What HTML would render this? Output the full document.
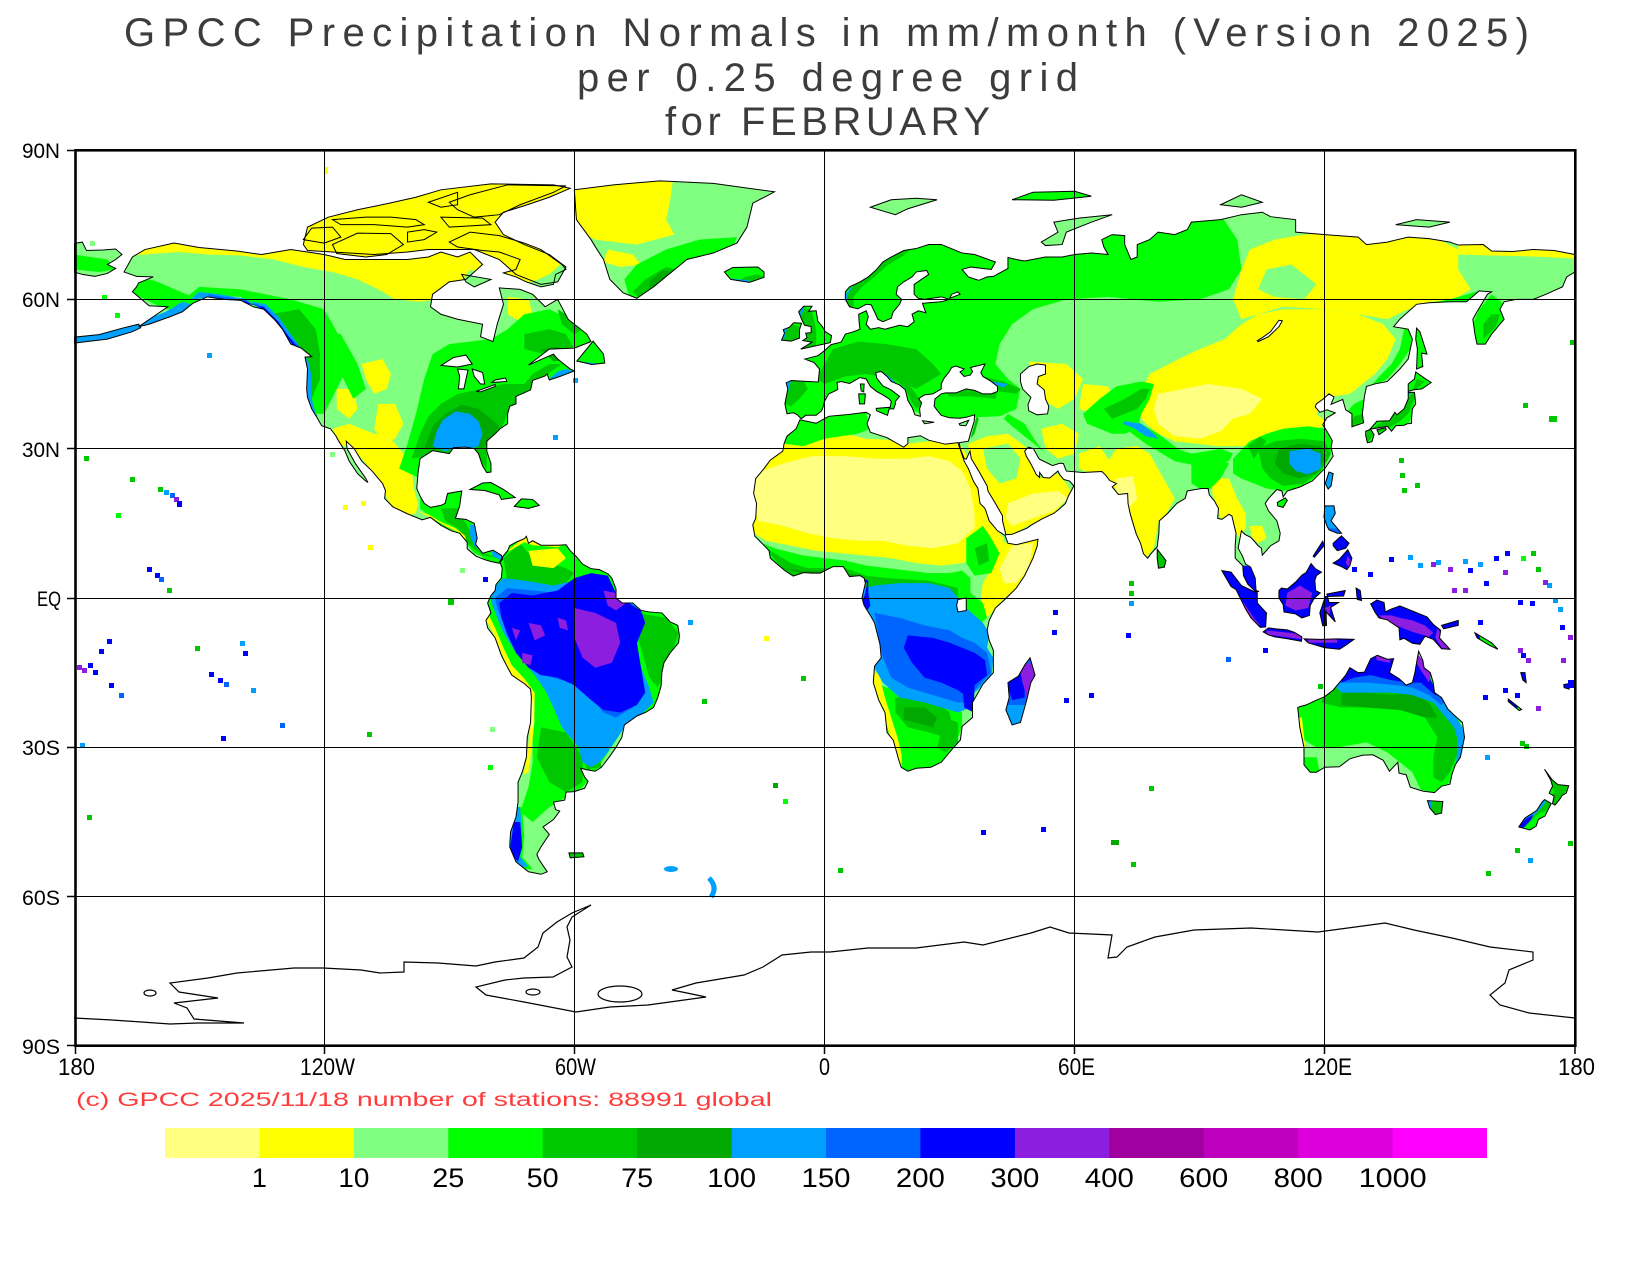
<!DOCTYPE html>
<html><head><meta charset="utf-8"><style>
html,body{margin:0;padding:0;background:#fff;}
svg{display:block;}
polygon,path,ellipse,line{vector-effect:non-scaling-stroke;}
text{font-family:"Liberation Sans",sans-serif;}
</style></head><body>
<svg xmlns="http://www.w3.org/2000/svg" xmlns:xlink="http://www.w3.org/1999/xlink" width="1650" height="1270" viewBox="0 0 1650 1270">
<rect x="0" y="0" width="1650" height="1270" fill="#fff"/>
<defs>
<polygon id="na" points="-168,65.5 -166,68.5 -163,70 -156,71.3 -150,70.4 -141,69.7 -135,69 -128,70 -120,69 -115,68 -108,68 -100,68 -95,68.5 -92,69.5 -88,68.5 -85,69.5 -82,67 -86,64 -90,63.5 -94,61 -94.5,58.5 -92,57 -88,56 -82,55 -82.5,52.5 -79.5,51.5 -78.5,55 -77,59 -78,62.3 -73,62 -70,61 -67,58.5 -64,60 -61.5,56 -57,53 -56,51.5 -60,50.2 -66,50 -71,46.8 -65,49 -64,48 -61,46 -60,45.6 -63.5,44.5 -66,43.8 -66.5,45 -67,44.6 -70,43.7 -70.5,41.8 -74,40.5 -74,39 -75.5,38.5 -76,37 -76,35 -77.8,34 -79,33 -81,31.5 -81,29.5 -80,27 -80,25.3 -81,25.2 -82,26.5 -83,29 -84,30 -86,30.3 -89,30.2 -90,29 -94,29.6 -97,28 -97.5,25 -97.8,22 -97,20.5 -96,19 -94.5,18.2 -92,18.6 -91,19 -90.4,21 -87,21.5 -87.5,18.5 -88.5,16 -86,15.8 -84,15 -83.3,12 -83.7,10.8 -82,9 -79.5,9.6 -77.5,8.6 -77.2,7.8 -78,7 -79.9,7.3 -81.5,7.7 -83.6,8.4 -85.7,9.9 -85.7,11.2 -87.5,13 -89.5,13.5 -92,14.6 -94.5,16.2 -96.5,15.7 -100,16.9 -103.5,18.3 -105.5,20 -105.3,21.6 -106,23 -108.5,25.5 -111,27.5 -112.8,30 -114.7,31.5 -114.5,30 -112.5,27 -110,24 -109.5,23.2 -110.2,23.6 -112,25 -114,27.5 -115,29.5 -116.5,31.5 -117.2,32.6 -118.5,34 -120.6,34.6 -121.9,36.5 -123,38 -124,40.3 -124.2,42 -124,46 -124.6,48.4 -123,48.5 -125.5,50.2 -128,51 -130,54 -132,56 -134.5,58 -137,58.5 -140,59.8 -144,60 -148,60.5 -151.5,59.2 -154,57.5 -157,56.5 -162,55 -164.5,54.5 -161,56.5 -157.5,58.5 -162,58.7 -164.5,60.5 -166,61.5 -165,62.5 -164.5,63.3 -161,64.5 -165,64.6"/>
<polygon id="arch" points="-125,71 -124,74.5 -119,76.5 -112,78 -105,79.2 -98,80.5 -92,82 -80,83.2 -65,83 -61,82.3 -66,80.5 -72,78.8 -77,77.5 -79,75.5 -77,73 -72,71 -66,69 -62,66.5 -64,63.5 -68,63 -74,65 -78,68 -84,70 -90,70 -95,70 -100,69.5 -108,69 -118,69.5 -124,69.8"/>
<polygon id="aleut" points="-180,51.2 -172,52 -166,53.5 -164,54.3 -164.5,55 -168,54.3 -174,52.9 -180,52.4"/>
<polygon id="chk" points="-180,71.2 -178,71.5 -177,69.8 -173,69.9 -170,70.1 -168.5,69 -170,68 -172,67 -170,66.2 -172,65.2 -175,64.6 -178,65 -180,65.5"/>
<polygon id="gr" points="-60,82 -59.5,76 -56,72 -55,70.6 -53,68 -51.5,64 -48.3,61.3 -45,60.2 -41,62.5 -33,68 -26.7,69.3 -21,71.3 -18.6,74.5 -17.2,79.3 -12,81.6 -26.7,83.3 -39.5,83.8 -50.6,83"/>
<polygon id="baf" points="-90,71.5 -85,73.5 -78,72.8 -72,71.3 -68,70 -63,67 -62,66 -64.5,65 -65,63 -68,62.5 -71.5,63.5 -74,64.5 -77,65.3 -74,66 -73,68 -78,69.5 -82,69.8 -88,70.5"/>
<polygon id="vic" points="-118,71 -112,73.3 -104,73.2 -101,71 -105,69 -110,68.5 -117,69.2"/>
<polygon id="banks" points="-125,72 -123,74.3 -118,74.5 -116,72.5 -120,71.3"/>
<polygon id="mel" points="-118,76 -110,76.5 -104,76.5 -98,76 -96,75 -100,74.5 -108,75 -116,75"/>
<polygon id="dev" points="-92,76.5 -82,76.3 -80,75 -90,74.5"/>
<polygon id="elles" points="-90,79.5 -85,81 -76,83 -62,82.8 -65,81.5 -73,79 -78,77 -84,76.5 -88,78"/>
<polygon id="axel" points="-95,79.5 -88,81.5 -88,79 -92,78.5"/>
<polygon id="sth" points="-87,65 -80,64 -84,62.5 -86,63.5"/>
<polygon id="pow" points="-100,73.5 -96,74 -93,73.5 -96,72 -100,71.5"/>
<polygon id="nfld" points="-59.4,47.6 -55.5,51.6 -53,49 -52.7,47.2 -55.8,46.9"/>
<polygon id="cuba" points="-85,21.8 -82,23.1 -80,23.2 -77,21.8 -74.2,20.2 -77.5,19.8 -78,20.7 -81.5,21.6"/>
<polygon id="hisp" points="-74.4,18.4 -72.7,19.9 -70,19.8 -68.4,18.6 -71,18"/>
<polygon id="sa" points="-77,8.5 -76,9.5 -75.5,10.5 -74,11.2 -72,11.9 -71.5,12.4 -71,11 -70,11.5 -68,10.6 -66,10.6 -64,10.6 -62,10.7 -61,9.5 -59.5,8.3 -58,6.8 -56,5.9 -54,5.7 -52,4.9 -51,4 -50,1.8 -50,0 -48.5,-1 -46,-1 -44,-2.5 -42,-2.8 -39,-3 -37,-4.8 -35.2,-5.5 -34.8,-7.5 -35,-9 -37,-11 -38.5,-13 -39,-15 -39.2,-17.7 -40,-20 -41,-22 -43,-23 -45,-23.7 -48,-25.5 -48.6,-28 -50,-30 -51.5,-31.8 -53.5,-34 -55,-34.8 -57,-34.5 -58.5,-34.2 -57.5,-36 -56.7,-36.8 -57.5,-38.2 -60,-38.9 -62,-39 -62.3,-40.6 -65,-41 -64.5,-42.5 -63.5,-42.8 -65,-44.5 -67.5,-46 -66,-47.5 -68,-50 -69,-51.5 -68.5,-52.5 -66.5,-55 -68,-55.5 -71,-55 -74,-53 -75.5,-50 -75.3,-47 -74,-44 -73.5,-41 -73.5,-37 -72.5,-35 -71.5,-32 -71.3,-28 -70.5,-25 -70.3,-20 -70.5,-18.3 -72,-17.2 -75,-15.5 -76.3,-13.5 -77.5,-11.5 -79,-8 -80.8,-6 -81.2,-4.5 -80,-3 -80.8,-1 -80,0.5 -79,1.5 -78.8,2.7 -77.5,4 -77.3,6 -77.9,7.3"/>
<polygon id="falk" points="-61.3,-51.2 -58,-51.2 -57.7,-52 -61,-52.2"/>
<polygon id="af" points="-17,21 -16.5,24 -14.5,26 -13,27.7 -10,29.5 -9.7,31 -9,32.5 -6.8,34 -5.9,35.8 -2,35.1 1,36.5 5,36.8 10,37.3 11,36.8 10.2,35 11,33.3 15,32.2 19,30.3 20,31 20,32.2 23,32.6 25,31.7 29,30.9 32,31.2 32.5,30 33.5,27.5 34.5,26 35.7,23.5 36.8,22 37.3,19 38.5,18 39.5,15.5 41.5,13.5 43.3,12.6 44,11 46,10.7 51.2,11.8 51,10.4 50,8 48,4.5 46,2 43,-0.5 41,-2 39.5,-4.5 39,-6.5 39.5,-8.5 40.5,-10.5 40.5,-15 38,-17.3 35.5,-21 35.5,-24 33,-25.8 32.6,-28.5 31,-30 28,-33 25.5,-34 22,-34.2 20,-34.8 18.4,-34 17.8,-32.5 16.5,-28.6 15,-27 14.5,-23 13,-20.5 11.7,-17 12,-13.7 13.6,-12 13.3,-9.3 12.3,-6 12,-5 11,-3.5 9.5,-1.5 9,0 9.8,3 9.5,4 8.5,4.5 6,4.3 4.5,6.3 2,6.3 -1,5 -3,5 -5,5.1 -7.5,4.4 -9.5,5.5 -11.5,6.9 -13,8 -13.3,9.5 -15,11 -16.7,12.4 -17.2,14.7 -16.5,16 -16.3,19"/>
<polygon id="mad" points="49.3,-12 50.5,-15.5 49.5,-17 48.5,-20.5 47,-25 45,-25.5 43.5,-22.5 44.3,-20 44,-17 46.5,-15.7 48,-13.5"/>
<polygon id="eu" points="-9,37 -9.5,39 -8.8,42 -9.2,43.2 -8,43.7 -4,43.5 -1.5,43.4 -1.2,46 -2.5,47.3 -4.7,48 -1.5,48.7 0,49.7 1.6,50.9 4,51.4 5,53 7,53.5 8.5,54 8.3,55.5 8.2,57 10,57.7 10.5,56.5 10,55 11,54 13,54.3 14.5,54 18,54.8 20,54.5 21.5,55.5 21,57 22.5,57.7 24.3,57.3 23.5,59.2 28,59.5 30,60 28,60.5 24,60 22.5,60.2 21.5,61 21.5,63 25,65 24.5,65.8 22,65.5 21,64.5 19,63.5 17.5,62.5 17.2,61 18.5,60 18,59 16.5,57.5 16,56.2 14,55.5 12.8,56 12,57.5 11.2,58.9 10,59 8,58.1 6,58.5 5,60 5,61.5 6,62.5 8.5,63.5 10.5,64.5 12.5,66 14,67.5 16,68.5 19,69.8 22,70.2 25,71 28,71 31,70 33,69.3 36,69 41,67.5 40,66 35,66.5 33,66 34.5,64.5 37,63.8 39,64.5 40.5,64.6 44,66.2 44,68.4 46,68 48,67.7 53,68.5 57,68.5 60,69 64,69.3 68,69 67,70.5 66.5,72 69,73 72,72.8 72,71 73,69 73.5,68 75,68.5 75,71 78,72 80,73.5 84,73 87,74 88,75.5 95,76 100,77 105,77.5 107,76.6 113,76 113,73.5 120,73 128,72.5 130,71 135,71.5 140,72.5 145,72.2 150,71.5 152,70.9 158,71 160,69.7 165,69.6 170,70 175,69.8 180,69 180,65.5 178,64.5 177,62.5 173,61 170,60 166,60 163,59.5 162,58 163,56 161.5,54.5 160,53 158.5,51 156.5,51 156,53 155.5,56 156.5,57.5 159,61 160,61.5 157,61.7 154,59.5 150,59.5 145,59.3 142,59 138,56 136.5,54.5 140,54 141,52 140,48 138,46 135,43.5 132,43 130,42.5 129.5,40.5 129,37 129.3,35.2 126.5,34.4 126.5,37 125,37.8 124.3,39.9 121.5,38.9 122.2,40.4 121,41 119.5,39.9 118,39 117.7,38.4 118.8,37.3 120.5,37.8 122.5,37.2 120.5,36.2 119.5,34.8 120.5,33.5 121.8,31.6 121.5,30.2 122,28.5 120,26 119,25.2 117,23.5 114,22.3 111,21.5 110,20.3 109.7,21.5 108.5,21.8 106.5,20 105.7,19 106.5,17.5 108.5,15.5 109.3,13 109,11.5 107,10.5 105,8.6 104.8,10 104,10.5 103,11.5 102.2,12.2 100.8,12.8 100,13.5 99.2,10 100.2,8.5 101,6.8 102.2,6.2 103.3,4 103.5,1.5 104.2,1.3 103.5,1.2 101.5,2.8 100.5,4.5 100.3,6.5 98.5,8 98.5,10.5 98.7,13 97.7,16.5 97,16.8 95.3,15.8 94.3,16 94.5,18 93.5,19.5 92.3,20.7 92,22 90.5,22 89,21.8 87,21.5 86.5,20 84.5,19 82.3,17 80.3,15.5 80.2,13 79.8,10.3 78.3,8.9 77.5,8 76.5,8.9 75.8,11 74.8,12.8 74,15 73.3,17 72.8,19 72.7,21 70.5,20.8 69,22.3 70,23 68.4,23.6 67.3,24.8 66.5,25.4 62,25.2 58,25.5 57.3,27 56.5,27.1 54.7,26.6 51.5,27.9 50.1,30 48.9,30.3 48,29.5 48.4,28.5 49.6,26.8 50.2,25.8 50.8,24.8 51.6,24.2 51.6,25.2 52.5,24.2 54,24.1 56,25.5 56.4,24.8 57.4,23.8 58.8,23.5 59.8,22.5 58.5,20.5 57.8,19 56.5,18 55,17 52.2,15.9 49.5,14.6 48.5,14 45,12.8 43.5,12.7 42.7,15.5 42.7,16.5 41.2,18.7 39.2,21.5 39,22.5 38,24 37,25.5 35.2,28 34.9,29.5 34,27.9 33.5,28 32.6,29.9 32.3,31.2 34.5,31.5 35,33 35.9,35.5 36,36.8 34,36.3 32.5,36.1 30,36.2 28,36.7 27.2,37.5 26.3,38.5 26.5,40 28,41 29,41.2 31.5,41.2 34,42 36,41.7 38,41 40,41 41.5,41.5 41.5,42.5 40,43.5 38,44.5 37.5,45.3 38.5,47 35,46.3 35.5,45.5 35,44.8 33.5,44.5 32.5,45.4 33.5,46 31.5,46.6 30.5,46.3 29.8,45.3 28.7,44.2 28,43 28,42 26,41 24,40.8 23,40.3 22.6,40 23.3,39.2 22.8,38 23,36.5 21.7,36.8 21,38.3 20,39.7 19.4,41.8 18,42.8 16,43.5 15,44.5 13.6,45.5 12.3,45.3 12.5,44.2 14,42.6 15.8,41.9 18,40.5 17,39.5 17,39 16.6,38 15.7,38 16,39.5 15.5,40 14,40.8 12.5,41.5 11,42.5 10,44 8.5,44.3 7.5,43.8 6,43.1 4,43.5 3,43.3 3.2,42 3,41.8 1,41 0,39.5 -0.3,38.5 -0.7,37.6 -2,36.7 -4.5,36.7 -5.6,36 -6.5,36.8 -7.5,37.2"/>
<polygon id="uk" points="-5.7,50 1.4,51.3 1.7,52.7 0.2,53.5 -0.5,54.5 -1.6,55.6 -2,57.7 -3.8,57.6 -3,58.6 -5,58.6 -6.2,57.5 -5.6,56.2 -4.8,54.8 -3.2,54.5 -3.2,53.3 -4.5,53.2 -4.2,52.3 -5.2,51.7 -3,51.4"/>
<polygon id="ie" points="-6,52.2 -6,53.9 -5.5,55.2 -7.4,55.3 -8.4,54.4 -9.9,53.9 -9.6,53.2 -10.3,51.8 -8,51.6"/>
<polygon id="ice" points="-22.5,64 -24,65.5 -22,66.4 -16,66.5 -14.5,65.5 -14.5,64.4 -18,63.4"/>
<polygon id="sval" points="11,78.5 16,80 22,80.3 27,80 20,78.2 17,77"/>
<polygon id="fjl" points="45,80 50,81.5 60,81.7 64,80.7 55,79.9"/>
<polygon id="novz" points="52,71.5 56,73.5 55,75.5 61,76.3 69,77 64,75.5 58,73.5 57,71 53,70.8"/>
<polygon id="sevz" points="95,79 100,81 105,79.5 100,78.5"/>
<polygon id="nsib" points="137,75 142,76 150,75.5 145,74.5"/>
<polygon id="sakh" points="142,46 143.5,46.5 143.2,49.2 144.5,49 142.8,53.5 142,54.2 141.8,52 142.2,50"/>
<polygon id="hok" points="140,41.5 141.2,41.8 143.3,42 145.5,43.3 144,44.1 141.8,45.4 141.5,44 140,43"/>
<polygon id="hon" points="130.9,34 132.5,35.5 135.5,35.6 136.8,37.3 137.3,36.8 139,38 140,40 140,41.3 141.5,41.3 141.8,39 141,38 140.8,36 140.8,35.1 139.8,35 139,34.7 137,34.6 136,33.5 135,34.5 133,34.2 131.5,34"/>
<polygon id="kyu" points="129.8,33.5 131,33.9 131.8,32.8 131.3,31.4 130.2,31.2 129.8,32.7"/>
<polygon id="shi" points="132.5,33.8 134.6,34.2 134.7,33.8 133,32.8"/>
<polygon id="tw" points="120.1,23 121,25.3 122,25 121.5,22.5 120.8,21.9"/>
<polygon id="hai" points="108.6,19.2 110.5,20.1 111,19.6 110,18.2 108.7,18.5"/>
<polygon id="luz" points="120,18.5 122.2,18.5 122.5,17 121.5,15.5 124,13 123,13 121,13.7 120.5,14.5 119.8,16.2"/>
<polygon id="min" points="122,7 123.5,7.8 125.5,9.7 126.5,8 126,6.5 125.3,5.7 124,6.3"/>
<polygon id="vis" points="122,11 124,12.5 125.8,11 125,10 123,9.5 122,10.5"/>
<polygon id="pal" points="117.2,8.4 119.5,11.4 119.8,10.5 117.5,8.2"/>
<polygon id="bor" points="109,1.5 109.6,2 111,1.8 113,3.2 114.5,4.6 115.5,5.1 116.7,6.9 117.7,5.9 119.2,5.2 118,4.5 117.6,3.5 117.8,1.5 118.9,1 117.5,0 116.5,-1.5 116.3,-3.5 114.5,-4 113,-3.2 111.5,-3 110.2,-2.8 110,-1.3 109,0"/>
<polygon id="sum" points="95.3,5.5 97.5,5.2 100,2.5 103.8,1 103.8,-1 106,-3 105.8,-5.8 104.5,-5.9 102.3,-4 101,-2.2 100,-0.5 98.7,1.7 97.5,2.3"/>
<polygon id="jav" points="105.2,-6.8 106.5,-6 108.3,-6.2 111,-6.4 112.7,-6.9 114.5,-7.8 114.4,-8.7 111,-8.2 108,-7.8 106.4,-7.4"/>
<polygon id="sunda" points="115,-8.2 119,-8.3 123,-8.2 127,-8.3 125,-9.5 123.5,-10.3 120,-10 116,-9"/>
<polygon id="sul" points="118.8,-3 119.5,-5.6 120.4,-5.5 120.3,-2.8 122.5,-4.8 121.4,-1.9 123.3,-0.9 121,-0.9 120.5,0.8 124.9,1.5 124.5,0.4 120.2,0.3 119.8,-0.5"/>
<polygon id="halm" points="127.5,2 128.5,1.5 128.8,-0.5 127.8,-0.3"/>
<polygon id="ng" points="131,-1.2 132.5,-0.4 134.2,-0.9 134.5,-2.8 136,-2.2 138,-1.6 141,-2.6 144.5,-3.8 146,-5.3 147.8,-6.5 147.5,-8 150,-10.3 148,-10.2 146,-8.3 144,-7.7 142.8,-9.3 141,-9.1 139,-8.1 138,-8.4 137.8,-6 135,-4.4 133,-4 132,-2.8"/>
<polygon id="nbr" points="148,-5.5 152,-4.5 152,-5.5 148.5,-6.2"/>
<polygon id="sol" points="156,-7 160,-9 161.5,-10.3 159.5,-9.5 156.5,-8"/>
<polygon id="newc" points="164,-20.3 167.2,-22.4 166.6,-22.6 164,-20.8"/>
<polygon id="van" points="167,-15 168,-15 168.3,-17 167.5,-16.5"/>
<polygon id="fiji" points="177.3,-17.4 178.6,-17.2 178.6,-18.3 177.4,-18"/>
<polygon id="aus" points="113.5,-22 114,-26 115,-30 115,-33.5 116.5,-35 118,-35 120,-34 123.5,-33.9 126,-32.3 129,-31.6 131.5,-31.5 134,-32.6 135.5,-34.8 137.5,-33 137.8,-35.2 139.5,-35.5 140.5,-38 143.5,-38.8 146.3,-39.1 148,-37.8 150,-37.4 150.5,-35.4 151.3,-33.5 152.5,-32 153,-30 153.5,-28 153,-25 151,-23.5 149.5,-22.3 148,-20 146.3,-19 146,-17 145.3,-15 143.8,-14 143.5,-12.5 142.5,-10.7 142,-13 141.6,-15 141,-17 139.5,-17.5 137.8,-16.2 135.5,-15 136.5,-12.2 135,-12.3 132.6,-11.5 131,-12.2 129.5,-14.9 128,-15 126,-14 125,-15.5 123.5,-17 122,-18.5 120,-19.8 117.5,-20.7 115.5,-21.5 114.1,-21.8"/>
<polygon id="tas" points="144.6,-40.7 148.3,-40.9 148,-43.2 146.5,-43.5 145.2,-42.2"/>
<polygon id="nzn" points="172.7,-34.4 174.5,-36.5 175.9,-37.5 178.5,-37.7 177.9,-39.2 177,-39.6 176.3,-40.5 175.2,-41.6 174.6,-41.3 175,-39.8 173.8,-39.2 174.6,-37.8 174.2,-36.6"/>
<polygon id="nzs" points="172.7,-40.5 174.3,-41.3 173.5,-42.6 172.8,-43.8 171.2,-44.5 170.7,-45.8 169.2,-46.6 166.5,-46 168,-44.2 170.8,-42.7 172.1,-41"/>
<polygon id="sri" points="79.8,9.8 81.9,7.5 81.5,6.2 80.1,6 79.8,8"/>
<polygon id="sic" points="12.4,38.1 15.6,38.3 15.1,36.7 12.5,37.6"/>
<polygon id="sar" points="8.2,41 9.8,41 9.6,39 8.4,39"/>
<polygon id="cor" points="8.6,43 9.5,43 9.4,41.4 8.8,41.6"/>
<polygon id="cre" points="23.5,35.6 26.3,35.3 24,35"/>
<polygon id="cyp" points="32.3,35 34.6,35.7 33.9,34.6 32.5,34.7"/>
<clipPath id="lc" clipPathUnits="userSpaceOnUse">
<use href="#na"/><use href="#arch"/><use href="#aleut"/><use href="#chk"/><use href="#gr"/><use href="#baf"/><use href="#vic"/><use href="#banks"/><use href="#mel"/><use href="#dev"/><use href="#elles"/><use href="#axel"/><use href="#sth"/><use href="#pow"/><use href="#nfld"/><use href="#cuba"/><use href="#hisp"/><use href="#sa"/><use href="#falk"/><use href="#af"/><use href="#mad"/><use href="#eu"/><use href="#uk"/><use href="#ie"/><use href="#ice"/><use href="#sval"/><use href="#fjl"/><use href="#novz"/><use href="#sevz"/><use href="#nsib"/><use href="#sakh"/><use href="#hok"/><use href="#hon"/><use href="#kyu"/><use href="#shi"/><use href="#tw"/><use href="#hai"/><use href="#luz"/><use href="#min"/><use href="#vis"/><use href="#pal"/><use href="#bor"/><use href="#sum"/><use href="#jav"/><use href="#sunda"/><use href="#sul"/><use href="#halm"/><use href="#ng"/><use href="#nbr"/><use href="#sol"/><use href="#newc"/><use href="#van"/><use href="#fiji"/><use href="#aus"/><use href="#tas"/><use href="#nzn"/><use href="#nzs"/><use href="#sri"/><use href="#sic"/><use href="#sar"/><use href="#cor"/><use href="#cre"/><use href="#cyp"/>
</clipPath>
<clipPath id="fr"><rect x="74" y="150" width="1501" height="896"/></clipPath>
</defs>

<g clip-path="url(#fr)">
<g transform="matrix(4.1694 0 0 -4.978 824.5 598)">
<g clip-path="url(#lc)">
<rect x="-180" y="-90" width="360" height="180" fill="#80ff80"/>
<!-- YELLOW -->
<g fill="#ffff00">
<polygon points="-172,73 -166,68.8 -160,69.2 -155,69.5 -148,69 -140,68.8 -132,68 -125,66.5 -118,65.5 -112,64 -107,62 -103,60 -97,59.5 -93,60 -88,62.5 -85,66 -80,64.5 -76,63.5 -70,63.5 -66,65 -62,68 -58,76 -60,86 -172,86"/>
<polygon points="-76,60.5 -71,60 -70,57 -73,55.5 -76,57"/>
<polygon points="-75,86 -36,86 -37,80 -38,76 -36,73 -45,71 -55,72 -62,75 -75,78"/>
<polygon points="-52,70 -46,69 -44,67 -49,66.5 -53,67.5"/>
<polygon points="-118,34 -114,35 -108,33 -104,32 -101,29 -99,26 -98.5,22 -97.5,19 -98,17 -101,16.5 -104,18.5 -106,22 -109,26 -113,30 -117,31"/>
<polygon points="-111,47 -106,48 -104,45 -105,42 -108,41 -110,44"/>
<polygon points="-107,39 -103,39 -101,35 -103,32 -106,31 -108,34"/>
<polygon points="-117,42 -113,42 -112,38 -114,36 -117,38"/>
<polygon points="-18,30 -10,31.5 -2,33 5,33 10,32 15,31.8 20,31 25,31.5 32,31.5 34,29 36,24 38,19 40,15 43,12 42,9 38,8 33,7 28,6.5 22,7 16,8 10,8.5 4,9 -2,9.5 -8,10.5 -14,11.5 -17,13"/>
<polygon points="40,12 44,11 51.5,11.8 51,8 49,5 46,2 42,-1 40,-3 38.5,-4.5 37.5,0 38,3 40,6 42,9"/>
<polygon points="34.5,31 39,32.5 44,33 48,30.5 50,27 52,24 56,25 58,23 59.5,21 55,17 50,15 45,12.8 43,13 42,16 39,21 37,25 34.5,28"/>
<polygon points="49,47.5 58,47 62,44 60,40 56,38 52,40 50.5,44"/>
<polygon points="62,43 68,42.5 70,39 65,37 61,38"/>
<polygon points="61,29 66,30.5 68,28 70.5,26 68,23.5 64,25 61,26"/>
<polygon points="52,34 57,35 61,33 60,29 56,28 53,30"/>
<polygon points="66,25 70,30 75,30.5 78,29 80,26 82,23 84,20 82,17 80,15 79,10 77,8 75,11 73,16 72,20 69,22.5 67,24.5"/>
<polygon points="93,24 97,24 99,20 101,17 101,14 99.5,12 98,14 97,16.5 95,16 94,19 93,21"/>
<polygon points="102,14.5 105,14.5 106,12 104,11 102.5,12.2"/>
<polygon points="75,40 78,45 85,48 90,50 96,52 100,55 104,57 110,58 120,58 128,57 134,55 137,52 135,48 132,45 129,43 126,41 122,40.5 119,39.5 118,37 121,35 118,34 114,33 110,32 104,30.5 98,30.5 94,30.5 89,31 84,31.5 80,33 77,35 75,37"/>
<polygon points="98,60 100,66 102,70 108,72 115,73 125,73.5 133,72 140,72.5 148,71.8 152,70 152,66 155,62 150,59.5 145,59.5 140,58 135,56 128,57 120,58 110,58.5 104,57 100,56"/>
<polygon points="152,71.5 165,70.5 175,70.5 180,70 180,68.2 170,68.6 160,68.8 152,69"/>
</g>
<polygon fill="#80ff80" points="106,66 112,67 118,63 115,60 108,60.5 104,62"/>
<!-- LIGHT YELLOW -->
<g fill="#ffff80">
<polygon points="-17,25 -10,27 -3,28.5 5,28.5 12,28 20,28 25,28.5 30,27.5 33,25.5 35,22 36,17 36,14 32,11 26,10 20,10.5 14,11.5 8,11.5 2,12 -4,13 -10,14.5 -16,15.5 -17,20"/>
<polygon points="45,10.5 50,11 49,6 46,3 43,3 42,6"/>
<polygon points="44,19 50,21 56,21.5 58.5,20 55,17.5 50,16 45,14.5 43.5,16"/>
<polygon points="80,41 86,42 92,43 100,42 105,40 102,37 98,36 95,33.5 90,32 84,32.5 80,35 79,38"/>
<polygon points="70,24 74,24.5 75,20 73,18 70,21"/>
</g>
<polygon fill="#80ff80" points="38,30 44,31 47,28 46,24 42,23 39,26"/>
<!-- GREEN -->
<g fill="#00ff00">
<polygon points="-102,26 -100,31 -98,37 -96,44 -94,49 -90,51 -80,52 -76,54 -72,57 -66,58 -61,56 -55,52 -52,47 -60,43 -68,40 -74,36 -78,30 -80,24 -90,28 -97,24"/>
<polygon points="-128,60 -120,58 -116,52 -114,47 -117,42 -120,37 -122,37 -124,42 -125,49 -132,56 -140,60.5 -150,61 -155,59 -150,62.5 -140,62"/>
<polygon points="-120,53 -116,53 -112,47 -110,42 -113,40 -116,45"/>
<polygon points="-168,62 -163,60 -158,58 -153,58 -150,60 -153,61 -160,63.5 -166,65"/>
<polygon points="-180,66 -174,65.5 -170,66 -172,68 -180,69"/>
<polygon points="-97,21 -94,19 -90,21.5 -87,21.5 -86,16 -83,15 -83,10 -80,9 -77,8 -77.5,7 -80,7.5 -84,9 -86,11 -88,13.2 -92,14.5 -95,16.5 -97,18"/>
<polygon points="-86,24 -66,24 -66,17 -86,17"/>
<polygon points="-44,60 -40,64 -32,67 -22,70.5 -21,72.5 -30,72 -38,70 -45,67 -48,64 -47,61"/>
<polygon points="-25,62 -12,62 -12,67 -25,67"/>
<polygon points="-11,50 2,50 2,59 -11,59"/>
<polygon points="-10,31 -5,30.5 0,32 8,33 11,34 10,37 15,37 20,38 25,36.5 30,36 36,36.3 42,36.5 46,38 47,42 44,44 41,47 42,51 45,55 50,58 58,60 68,60.5 80,59.5 90,60 97,62 100,66 99,72 95,77 85,76.5 75,75 68,73.5 62,71 55,70 48,69 42,69 35,71 25,72.5 18,70.5 12,67.5 6,63 4,60 6,57 5,54 0,51.5 -6,51 -6,48.5 -11,44 -10,36"/>
<polygon points="44,37 48,35 51,31 53,29 51,30.5 48,32.5 45,34.5 43,36"/>
<polygon points="62,37 66,40 70,42.5 76,43.5 79,43 78,40 76,37 75,34 72,33 69,33 66,34 63,35"/>
<polygon points="70,36 75,35.5 80,33 85,29.8 88,29 92,29.5 95,30 98,29 97,27.5 92,27 88,26.8 84,27.5 80,29.5 77,31 73,33.5 70,34"/>
<polygon points="88,27.5 95,28 97,27 95,24 92,21.5 90,22 88,23"/>
<polygon points="98,28 102,31.5 106,33 110,34 116,34.5 120,34 122,31 121,28 119,25 115,22.5 110,21.5 106,22 103,23 100,24 98,25"/>
<polygon points="108,17.5 112,17.5 112,20.5 108,20.5"/>
<polygon points="129,31 132,35.5 139,39 141,46 146,44 142,41 141,37 140,34.5 135,33 131,31"/>
<polygon points="125,37 127,39 129.5,40 129.5,35 126,34"/>
<polygon points="131,42.5 135,44 138,47 140.5,50 141,54 143,59 150,60 157,61.7 154,59 146,59 142,57 139,54 138,50 136,47 133,44.5"/>
<polygon points="141.5,46 144.5,46 145,54.5 141.5,54.5"/>
<polygon points="156,51 158.5,51 160,53 163,56 163,59 160,61 157,58 155.5,55"/>
<polygon points="-18,12 -12,10 -5,8.5 0,8 5,7.5 10,6.5 15,6 20,5.5 25,5 30,5 33,5.5 35,4 35,0 10,0 8,3 -10,3"/>
<polygon points="34,12 38,14.5 40,12 42,9 40,5 36,4.5 34,7"/>
<polygon points="29,0 35,1 38,-1 39,-4 36,-6 31,-4"/>
<polygon points="12,-17 15,-18 20,-19 25,-19.5 30,-21 33,-23 33,-26 31,-30 28,-33 25,-34.5 20,-35 18,-34 16,-29 14,-24 12,-20"/>
<polygon points="-82,13 -60,12 -50,5 -35,-5 -35,-10 -40,-22 -48,-26 -55,-35 -58,-38 -62,-40 -66,-42 -70,-45 -73,-43 -71,-38 -70,-33 -70,-28 -72,-20 -80,-5 -82,5"/>
<polygon points="-76,-42 -72.5,-42 -72,-48 -72.5,-52 -70,-54.5 -74,-54.5 -76,-50"/>
<polygon points="113,-22 120,-20 130,-15 138,-16 142,-11 146,-16 150,-22 153,-26 152,-33 150,-37 146,-39 143,-38.5 141,-35 138,-33 135,-31 130,-29 123,-30 118,-30 114,-28"/>
<polygon points="114,-32 116,-35.5 119,-35.5 118,-32"/>
<polygon points="144,-40 149,-40 149,-44 144,-44"/>
<polygon points="165,-34 180,-34 180,-48 165,-48"/>
<polygon points="150,-1 180,-1 180,-25 150,-25"/>
<polygon points="40,79 66,79 66,83 40,83"/>
</g>
<!-- DARK GREEN 1 -->
<g fill="#00c800">
<polygon points="-99,28 -97,33 -95,36.5 -92,39 -88,41 -82,42 -77,43 -72,43 -70,45 -66,47 -63,47 -68,44 -72,41 -75.5,38 -77,35 -79,32 -81,30 -81,26 -85,29.5 -90,29 -95,28.5"/>
<polygon points="-72,53 -66,54 -62,53 -60,50 -67,49 -72,50"/>
<polygon points="-64,58 -61,56.5 -58,54 -60,53 -63,55"/>
<polygon points="-126,58 -122,54 -121,49 -121,44 -123,40 -124,42 -125,48 -128,53 -133,57"/>
<polygon points="-92,18 -88,18 -86,15 -84,12 -83,9.5 -80,8.5 -78,8 -82,8.5 -85,10.5 -88,14 -91,15.5"/>
<polygon points="-44,60 -42,61.5 -40,64.5 -35,66 -38,66.5 -43,64 -46,61.5"/>
<polygon points="-21,63.5 -17,63.3 -14.5,64.5 -16,65 -19,64.5"/>
<polygon points="-6,50 -2,50.5 -2,54 -3,57.5 -5,58.5 -6.5,57 -5,55 -4.5,52"/>
<polygon points="-10.5,51.5 -6,52 -6,54.5 -8.5,55.3 -10,54"/>
<polygon points="-2,44 2,50 8,51.5 15,51 22,50 26,47 28,45 22,42 16,44 10,45 5,44.5 0,43"/>
<polygon points="14,45.5 17,44 19.5,42 20.5,40 22,38 23.5,39 22,41 20,43 17,45"/>
<polygon points="-9.5,43.8 -5,43.6 -4,42 -6,40 -8,38.5 -9.5,39"/>
<polygon points="29,41.3 35,42 41.5,41.5 41,40 35,40.5 30,40.5"/>
<polygon points="38,44.5 43,43.5 47,42 46,41 42,41.5 39,43"/>
<polygon points="5,58.5 5.5,61 7,62.8 10,64.2 12.5,66 14,67.5 16,68.8 19,70 21,70.3 19,68.8 15,66.8 12,64.5 9,62.5 7,60.5 7,58.5"/>
<polygon points="35,32 36.5,36.5 37,36 36,33"/>
<polygon points="67,38 72,40 76,42 78,42 77,40 75,38 72,37 69,36"/>
<polygon points="104,30 108,31.5 114,32 120,31.5 121.5,29 119,25.5 115,23 110,22.5 107,24 105,26"/>
<polygon points="103,28 106,31.5 104.5,32.5 101.5,30.5"/>
<polygon points="130,31 132,33 135,34 138,35.5 140,37 141.5,40 142,42 144,43.5 142,44 141,41.5 139,38.5 136,36.5 133,35 130,33.5"/>
<polygon points="126,34.5 129.5,35.5 129,37 127,36.5"/>
<polygon points="158,52 161,54.5 162,57 160,57 158,55"/>
<polygon points="-14,10 -8,7 -4,6 0,6 5,6 10,4.5 15,4 25,3.5 32,2 32,0 8,0 5,3 -8,3.5"/>
<polygon points="36,10 39,11 39.5,7.5 37,6.5"/>
<polygon points="17,-20 22,-20 27,-21 30,-23 31,-27 29,-28 25,-27 20,-26 17,-23"/>
<polygon points="29,-24 32,-25 32,-29 29,-31 27,-30"/>
<polygon points="-45,-3 -38,-4 -35,-7 -37,-12 -40,-18 -42,-16 -44,-10 -46,-5"/>
<polygon points="-68,-26 -62,-27 -58,-32 -58,-37 -62,-39 -66,-37 -69,-32"/>
<polygon points="-77,8 -73,11 -70,8 -66,7 -62,6 -60,5 -62,3 -67,2 -72,2 -76,3"/>
<polygon points="-58,-31 -54,-31.5 -53.5,-34 -57,-34.5"/>
<polygon points="121,-18 128,-17 136,-17.5 142,-17 146,-20 150,-24 152,-27 152,-31 150,-35 148,-37 146,-36 146,-32 147,-28 144,-24 138,-22 130,-22 124,-22 119,-21"/>
<polygon points="145,-41 148,-41 148,-43.5 146,-43.5"/>
<polygon points="172,-34 179,-37 177,-40 175,-42 171,-43.5 168,-46 166,-46 172,-41 175,-39"/>
<polygon points="79,5 82,5 82,10 79,10"/>
<polygon points="-62,-51 -57,-51 -57,-53 -62,-53"/>
</g>
<!-- DARK GREEN 2 -->
<g fill="#00a800">
<polygon points="-96,30 -94,34.5 -91,37 -87,38.8 -83,38 -80,36 -78,34.5 -80,32 -82,30 -84,30.5 -88,30 -92,29.8"/>
<polygon points="-68,50 -64,50.5 -61,48 -65,47.5"/>
<polygon points="-42,61 -38,64.5 -36,65.5 -39,65.8 -42,63.5"/>
<polygon points="109,30 114,31 119,30.5 120,28 118,25 114,24 110,25 108,27"/>
<polygon points="124,-19 130,-19 136,-19.5 141,-19 145,-21 147,-24 144,-24 138,-22.5 130,-22 124,-21.5"/>
<polygon points="-10,6 -5,5.5 0,5.5 5,5 8,4.5 6,4 -5,4.8"/>
<polygon points="19,-22 24,-22 27,-24 26,-26 22,-25 19,-24.5"/>
</g>
<!-- late yellow -->
<g fill="#ffff00">
<polygon points="-98,17.5 -94,16 -91,14.5 -88,13.3 -86.5,12 -85.8,10.5 -86.2,12.5 -88.5,14 -92,15.3 -95,16.8"/>
<polygon points="-71,9.5 -64,10 -62,8 -65,6 -70,6.5"/>
<polygon points="-76,9.5 -72,12.2 -68,11.3 -64,10.9 -62,10.9 -64,10.2 -70,10.6 -72,11.2 -75.5,9.5"/>
<polygon points="-81.5,-4 -79.5,-7 -77.5,-11 -75.5,-15 -71.5,-18 -70.6,-22 -70.8,-28 -71.6,-33 -72.2,-35.5 -71,-35 -70.2,-30 -69.6,-25 -69.5,-19 -72,-16.2 -75,-13.5 -77,-10 -79,-6 -80.5,-3.5"/>
<polygon points="11.5,-15 13,-15 14.5,-20 16,-24 17.5,-28 18.5,-31.5 18.5,-34 17.5,-34 16,-29 14.5,-24 13,-20.5 11.5,-17"/>
<polygon points="12,-8 13.5,-8 14,-12 12.5,-13.5 11.8,-12"/>
<polygon points="113,-24 114.5,-24 115.3,-30 114.5,-30"/>
</g>
<polygon fill="#ffff80" points="-70.6,-18 -69.8,-21 -69.6,-25 -70.4,-27 -70.8,-24 -70.5,-20"/>
<!-- LIGHT BLUE -->
<g fill="#00a0ff">
<polygon points="-94,30.5 -93,33.5 -91.5,35.8 -88.5,37.5 -85,37 -83,35.5 -82,33 -83,30.5 -85,30 -88,30.3 -91,29.5"/>
<polygon points="-137,59.5 -134,59 -131,56.5 -128,53 -125.5,50 -123.5,47 -123,44 -123,40 -122,37 -121.5,36.5 -124,37 -125,40 -125,48 -129,52 -133,56 -138,60 -145,61 -150,61.5 -152,60 -146,60.4 -141,60.3"/>
<polygon points="-166,54 -158,56 -154,57.5 -152,59 -154,59.5 -158,57.5 -164,55.5 -166,55"/>
<polygon points="-180,50 -164,53 -164,56 -180,53"/>
<polygon points="-66,44 -63,44.5 -60,45.5 -62,46 -64,45.5"/>
<polygon points="-59,47.5 -53,47 -53,46.5 -59,47"/>
<polygon points="-85,14.8 -83.3,14.5 -83.3,11 -82.5,9.5 -84,10.5 -85,12.5"/>
<polygon points="-80,9.5 -77.5,8.8 -77.3,7.5 -79.5,8.3"/>
<polygon points="4.8,58.8 5,61 6.5,62.5 9,63.8 11.5,65.5 13.5,67.5 15.5,68.8 18,69.8 19,70.2 17,69.5 14,67.8 12,66 9.5,64.2 7,62.8 5.6,61 5.5,59"/>
<polygon points="-10.6,51.5 -10,54 -8.5,55.3 -7.5,55.5 -9,54 -9.7,52"/>
<polygon points="-6.5,56.2 -5.2,58.6 -4.8,58.4 -5.6,56.8"/>
<polygon points="-9.5,43.8 -8,43.8 -8.5,42 -9,41"/>
<polygon points="13.5,45.5 15,44.8 17,43.3 19.5,42 19,41.8 16.5,43 14.5,44.5"/>
<polygon points="40,43.5 44,43 43,42.3 40,43"/>
<polygon points="-24,63.2 -18,63.2 -18,63.8 -24,64.3"/>
<polygon points="72,35.5 76,35 79,33 80,32 77,32.5 74,34.2 71.5,35"/>
<polygon points="111.5,29.5 116,30 119,29 119,26 116,24.8 113,25.5 111.5,27"/>
<polygon points="131,34.5 133,35.8 136,36.3 137,37.5 139,38.6 140,40.3 141,41.8 140.2,41.6 139.5,40 138.4,38.5 136.6,37.2 134.5,36 132,35.2 130.9,34.2"/>
<polygon points="120,22 122.2,22 122.2,25.5 120,25.5"/>
<polygon points="117,5 127,5 127,19 117,19"/>
<polygon points="8,1.5 12,2.5 18,3 25,3 30,2 32,0 34,-2 38,-5 39.5,-7 39,-10 40.5,-12 40,-16 36,-19 35,-22 32,-23 28,-22 24,-21 18,-20 14,-17 12,-14 13,-9 12,-5 9,-1"/>
<polygon points="43,-21 48,-21 47.5,-26 43,-26"/>
<polygon points="-80,1.5 -77,4 -72,3.5 -65,2.5 -60,3.5 -55,3.5 -51,2 -49,-0.5 -46,-1 -44,-3 -44,-6 -45,-10 -44,-14 -42,-18 -41,-21 -44,-23.5 -48,-26 -52,-31 -54,-33 -56,-34 -58,-33 -59,-30 -61,-28 -63,-26 -65,-22 -67,-18.5 -70,-15 -74,-11 -77,-7 -79,-3 -80,-0.5"/>
<polygon points="-75,-42 -73,-42 -72.5,-48 -73,-52 -71,-54 -74,-54 -76,-50 -76,-45"/>
<polygon points="121,-16.5 125,-15 129,-14.5 134,-15 138,-16 142,-15 145,-17 147,-19 150,-22 153,-26 153.5,-28 152,-29 151,-26 148,-23 146,-21 141,-19.5 136,-19 130,-19 124,-19"/>
<polygon points="152,-28 154,-28 153,-33 151.5,-33"/>
<polygon points="144,-40.5 145.5,-40.5 145.5,-43.5 144,-43.5"/>
<polygon points="166,-46.5 168,-44 171,-42 172.5,-40.5 173,-41 171,-43 168.5,-45 167,-46.5"/>
</g>
<!-- MEDIUM BLUE -->
<g fill="#0064ff">
<polygon points="-136,59 -132,56 -129,53 -126,50.5 -124.5,48 -124.2,44 -124.3,41 -125,41 -125,45 -126,49 -129,52.5 -132,55.5 -135,58 -139,60 -144,60.5 -148,61 -147,60.2 -141,59.8"/>
<polygon points="12,-3 18,-4 24,-5.5 30,-6.5 33,-8 36,-9 39,-11 40,-15 36,-18.5 35,-21 32,-21 28,-20 24,-19 20,-18 16,-16 14,-12 13,-8"/>
<polygon points="43,-12 51,-12 51,-21.5 43,-21.5"/>
<polygon points="-79,0 -76,2 -70,1.5 -64,1 -58,2 -53,2 -50,0 -47,-2 -45,-5 -46,-10 -45,-15 -44,-19 -46,-22 -50,-24 -53,-23 -55,-21 -58,-19 -61,-17 -65,-16 -69,-15 -72,-12.5 -75,-9 -77,-5 -78.5,-2"/>
<polygon points="122,-15.5 126,-14 130,-13 135,-13 139,-15.5 143,-14 146,-18 149,-20.5 148,-21.5 145,-19.5 141,-18 137,-17.5 130,-17 124,-17"/>
<polygon points="119,12 124.5,12 124.5,14 119,14"/>
</g>
<!-- BLUE -->
<g fill="#0000ff">
<polygon points="-134.5,58.5 -131,55.5 -128.5,52.5 -126,50 -124.9,48.3 -125.6,48.8 -127.5,50.8 -129.8,53.5 -132.5,56 -135.5,58.5 -139,59.6 -142,60 -140,59.3"/>
<polygon points="20,-7.5 26,-8 30,-9 33,-10 36,-11 38.5,-12.5 39,-15.5 36,-17.5 34.5,-20 32,-18.5 28,-17 24,-16 21,-13 19,-10"/>
<polygon points="33,-17 36,-17 35.8,-23 33.5,-22"/>
<polygon points="9,4 10.2,3 9.8,1 9,-1 10,-2.8 11,-1.5 10.5,1 10.5,3.5"/>
<polygon points="44,-15.5 48,-13.5 48,-20 45,-20.5 44,-18"/>
<polygon points="-78,-1 -75,1 -70,0.5 -64,1.5 -60,4 -56,5 -52,4.5 -50,1 -47,-1 -44,-2.5 -43,-5 -45,-9 -44,-14 -43,-19 -45,-21.5 -49,-23 -53,-22.5 -56,-20.5 -60,-17.5 -64,-16 -68,-15.5 -71,-14 -74,-11 -76,-7.5 -77.5,-4"/>
<polygon points="94,6 99,6.5 101,6.5 103,6 104.5,2 106,5 115,8 117,8 119,12 126,13.5 127,10 135,2 152,0 156,-5 158,-10 150,-11 143,-10.3 140,-10 128,-10 125,-10.5 120,-11 114,-9.5 106,-7.5 100,-5 95,0"/>
<polygon points="123,-16 126,-14 129,-14 131,-11.5 134,-11.5 137,-11.5 136,-14 138,-15.5 141,-16.5 142,-11 144,-14 146,-17.5 148,-19.5 146.5,-19.5 143,-17 140,-17 136,-16.5 131,-15.5 127,-16 124,-17"/>
<polygon points="166.5,-46 168,-44.5 170,-43.5 169.5,-44.5 167.5,-46.3"/>
<polygon points="-74.5,-45 -73,-45 -72.5,-50 -73.5,-53 -75.5,-51"/>
<polygon points="160,-12 180,-12 180,-22 160,-22"/>
</g>
<!-- PURPLE -->
<g fill="#8c1ee0">
<polygon points="-60,-2 -55,-3 -50,-5 -49,-9 -51,-13 -55,-14 -58,-12 -60,-8"/>
<polygon points="-53,1.5 -50,1 -47.5,-1 -50,-2.5 -52,-1.5"/>
<polygon points="-71,-5 -68,-5.5 -67,-7.5 -69.5,-8.5"/>
<polygon points="-72.5,-11 -70,-11.5 -70.5,-13.5 -72.5,-13"/>
<polygon points="-75,-6 -73,-6.5 -74,-8.5"/>
<polygon points="-64,-4 -62,-4.5 -61.5,-6.5 -63.5,-6"/>
<polygon points="47.5,-13.5 49.5,-13 50.5,-15.5 49.5,-18 48.5,-20 47.5,-17 47,-15"/>
<polygon points="111,1 114,2.5 117,1 116,-2 113,-2.5 110.5,-1.5"/>
<polygon points="96,4 98,2 101,-1.5 103,-4 104.5,-5.5 103,-5.2 100,-2.5 97.5,1"/>
<polygon points="106,-6.5 114,-7.2 114.5,-8.3 106,-7.3"/>
<polygon points="133,-3.5 136,-3.5 138,-4 141,-4.5 144,-5.5 146,-7 145,-7.8 141,-6.8 138,-5.8 135,-5.2"/>
<polygon points="147,-6 150,-10.5 148,-10 146.5,-8"/>
<polygon points="125.5,8.5 126.6,7 126,6 125,7"/>
<polygon points="120,-2 121.5,-1.5 121,-3.5"/>
<polygon points="141.5,-10.5 143.5,-12.5 145.5,-15.5 145,-17 143,-14.5 142,-13"/>
<polygon points="132,-11.2 136,-11.8 135.5,-13 132.5,-12.5"/>
<polygon points="-131,55 -128,52 -127.5,51.5 -130.5,54.5"/>
<polygon points="116,-8.3 123,-8.2 123,-9 116,-9"/>
</g>
</g>
<!-- lakes -->
<g fill="#fff" stroke="#000" stroke-width="1">
<polygon points="-92,46.7 -89,48.3 -86,48.8 -84.5,47 -88,46.4 -90.5,46.6"/>
<polygon points="-88,46 -85.5,45.8 -86.5,42 -87.8,42 -87.5,44.5"/>
<polygon points="-84.5,46 -82,45.3 -81.5,43 -82.5,43 -84,44.5"/>
<polygon points="-83.5,41.5 -79,42.9 -79,42.5 -82.5,41.4"/>
<polygon points="-79.8,43.3 -76.2,43.5 -76.5,44.2 -79,43.8"/>
<polygon points="47,45 49,46.5 51,47 53,46.8 53,45 51.3,44.5 51,43 52.7,41.8 53,40 53.8,38.5 53.5,37 51,36.8 49,37.6 48.8,38.8 49.5,40.3 47.5,42 47,43.5"/>
<polygon points="32,-0.3 34,0 34,-2.5 32,-2.8 31.7,-1.5"/>
<polygon points="104,51.5 106.5,52.5 109,54.5 109.8,55.7 109,55.8 107,53.5 105,52.3 103.8,51.7"/>
<polygon points="30,60.2 32.5,61 32,61.5 30.5,61"/>
</g>
<!-- coastlines -->
<g fill="none" stroke="#000" stroke-width="1">
<use href="#na"/><use href="#arch"/><use href="#aleut"/><use href="#chk"/><use href="#gr"/><use href="#baf"/><use href="#vic"/><use href="#banks"/><use href="#mel"/><use href="#dev"/><use href="#elles"/><use href="#axel"/><use href="#sth"/><use href="#pow"/><use href="#nfld"/><use href="#cuba"/><use href="#hisp"/><use href="#sa"/><use href="#falk"/><use href="#af"/><use href="#mad"/><use href="#eu"/><use href="#uk"/><use href="#ie"/><use href="#ice"/><use href="#sval"/><use href="#fjl"/><use href="#novz"/><use href="#sevz"/><use href="#nsib"/><use href="#sakh"/><use href="#hok"/><use href="#hon"/><use href="#kyu"/><use href="#shi"/><use href="#tw"/><use href="#hai"/><use href="#luz"/><use href="#min"/><use href="#vis"/><use href="#pal"/><use href="#bor"/><use href="#sum"/><use href="#jav"/><use href="#sunda"/><use href="#sul"/><use href="#halm"/><use href="#ng"/><use href="#nbr"/><use href="#sol"/><use href="#newc"/><use href="#van"/><use href="#fiji"/><use href="#aus"/><use href="#tas"/><use href="#nzn"/><use href="#nzs"/><use href="#sri"/><use href="#sic"/><use href="#sar"/><use href="#cor"/><use href="#cre"/><use href="#cyp"/>
</g>
</g>

<!-- island dots -->
<g>
<rect x="325" y="167" width="3" height="7" fill="#ffff00"/>
<rect x="90" y="241" width="5" height="5" fill="#80ff80"/>
<rect x="102" y="295" width="5" height="5" fill="#00ff00"/>
<rect x="115" y="313" width="5" height="5" fill="#00ff00"/>
<rect x="207" y="353" width="5" height="5" fill="#00a0ff"/>
<rect x="84" y="456" width="5" height="5" fill="#00c800"/>
<rect x="130" y="477" width="5" height="5" fill="#00c800"/>
<rect x="116" y="513" width="5" height="5" fill="#00ff00"/>
<rect x="158" y="487" width="5" height="5" fill="#00c800"/>
<rect x="164" y="490" width="5" height="5" fill="#00a0ff"/>
<rect x="170" y="493" width="5" height="5" fill="#0064ff"/>
<rect x="174" y="497" width="5" height="5" fill="#8c1ee0"/>
<rect x="177" y="501" width="5" height="6" fill="#0000ff"/>
<rect x="147" y="567" width="5" height="5" fill="#0000ff"/>
<rect x="155" y="573" width="5" height="5" fill="#0000ff"/>
<rect x="159" y="577" width="5" height="5" fill="#0064ff"/>
<rect x="167" y="588" width="5" height="5" fill="#00c800"/>
<rect x="553" y="435" width="5" height="5" fill="#00a0ff"/>
<rect x="573" y="378" width="5" height="5" fill="#00a0ff"/>
<rect x="483" y="577" width="5" height="5" fill="#0000ff"/>
<rect x="460" y="568" width="5" height="5" fill="#80ff80"/>
<rect x="343" y="505" width="5" height="5" fill="#ffff00"/>
<rect x="361" y="501" width="5" height="5" fill="#ffff00"/>
<rect x="368" y="545" width="5" height="5" fill="#ffff00"/>
<rect x="330" y="452" width="5" height="5" fill="#80ff80"/>
<rect x="107" y="639" width="5" height="5" fill="#0000ff"/>
<rect x="99" y="649" width="5" height="5" fill="#0000ff"/>
<rect x="77" y="665" width="5" height="5" fill="#8c1ee0"/>
<rect x="88" y="663" width="5" height="5" fill="#0000ff"/>
<rect x="82" y="668" width="5" height="5" fill="#8c1ee0"/>
<rect x="93" y="670" width="5" height="5" fill="#0000ff"/>
<rect x="109" y="683" width="5" height="5" fill="#0000ff"/>
<rect x="119" y="693" width="5" height="5" fill="#0064ff"/>
<rect x="195" y="646" width="5" height="5" fill="#00c800"/>
<rect x="240" y="641" width="5" height="5" fill="#00a0ff"/>
<rect x="243" y="651" width="5" height="5" fill="#0000ff"/>
<rect x="209" y="672" width="5" height="5" fill="#0000ff"/>
<rect x="218" y="678" width="5" height="5" fill="#0000ff"/>
<rect x="224" y="682" width="5" height="5" fill="#0064ff"/>
<rect x="251" y="688" width="5" height="5" fill="#00a0ff"/>
<rect x="280" y="723" width="5" height="5" fill="#0064ff"/>
<rect x="221" y="736" width="5" height="5" fill="#0000ff"/>
<rect x="367" y="732" width="5" height="5" fill="#00c800"/>
<rect x="80" y="743" width="5" height="5" fill="#00a0ff"/>
<rect x="87" y="815" width="5" height="5" fill="#00c800"/>
<rect x="490" y="727" width="5" height="5" fill="#80ff80"/>
<rect x="488" y="765" width="5" height="5" fill="#00ff00"/>
<rect x="448" y="599" width="6" height="6" fill="#00c800"/>
<rect x="688" y="620" width="5" height="5" fill="#00a0ff"/>
<rect x="764" y="636" width="5" height="5" fill="#ffff00"/>
<rect x="801" y="676" width="5" height="5" fill="#00c800"/>
<rect x="702" y="699" width="5" height="5" fill="#00c800"/>
<rect x="773" y="783" width="5" height="5" fill="#00a800"/>
<rect x="783" y="799" width="5" height="5" fill="#00ff00"/>
<rect x="981" y="830" width="5" height="5" fill="#0000ff"/>
<rect x="1041" y="827" width="5" height="5" fill="#0000ff"/>
<rect x="838" y="868" width="5" height="5" fill="#00c800"/>
<rect x="1111" y="840" width="8" height="5" fill="#00a800"/>
<rect x="1131" y="862" width="5" height="5" fill="#00c800"/>
<rect x="1149" y="786" width="5" height="5" fill="#00c800"/>
<rect x="1126" y="633" width="5" height="5" fill="#0000ff"/>
<rect x="1089" y="693" width="5" height="5" fill="#0000ff"/>
<rect x="1052" y="630" width="5" height="5" fill="#0000ff"/>
<rect x="1053" y="610" width="5" height="5" fill="#0000ff"/>
<rect x="1064" y="698" width="5" height="5" fill="#0000ff"/>
<rect x="1226" y="657" width="5" height="5" fill="#0064ff"/>
<rect x="1129" y="581" width="5" height="5" fill="#00c800"/>
<rect x="1129" y="591" width="5" height="5" fill="#00c800"/>
<rect x="1129" y="601" width="5" height="5" fill="#00a0ff"/>
<rect x="1523" y="403" width="5" height="5" fill="#00c800"/>
<rect x="1549" y="416" width="8" height="6" fill="#00c800"/>
<rect x="1570" y="340" width="5" height="5" fill="#00c800"/>
<rect x="1399" y="458" width="5" height="5" fill="#00c800"/>
<rect x="1400" y="473" width="5" height="5" fill="#00c800"/>
<rect x="1402" y="488" width="5" height="5" fill="#00c800"/>
<rect x="1415" y="483" width="5" height="5" fill="#00c800"/>
<rect x="1352" y="567" width="5" height="5" fill="#0000ff"/>
<rect x="1368" y="572" width="5" height="5" fill="#0000ff"/>
<rect x="1389" y="557" width="5" height="5" fill="#0000ff"/>
<rect x="1408" y="555" width="5" height="5" fill="#00a0ff"/>
<rect x="1431" y="562" width="5" height="5" fill="#8c1ee0"/>
<rect x="1448" y="567" width="5" height="5" fill="#8c1ee0"/>
<rect x="1463" y="559" width="5" height="5" fill="#00a0ff"/>
<rect x="1478" y="562" width="5" height="5" fill="#00a0ff"/>
<rect x="1494" y="556" width="5" height="5" fill="#0000ff"/>
<rect x="1505" y="551" width="5" height="5" fill="#0000ff"/>
<rect x="1521" y="556" width="5" height="5" fill="#00ff00"/>
<rect x="1531" y="551" width="5" height="5" fill="#00c800"/>
<rect x="1536" y="567" width="5" height="5" fill="#00c800"/>
<rect x="1452" y="588" width="5" height="5" fill="#8c1ee0"/>
<rect x="1463" y="588" width="5" height="5" fill="#8c1ee0"/>
<rect x="1484" y="581" width="5" height="5" fill="#0000ff"/>
<rect x="1547" y="583" width="5" height="5" fill="#00a0ff"/>
<rect x="1553" y="598" width="5" height="5" fill="#00a0ff"/>
<rect x="1558" y="607" width="5" height="5" fill="#00a0ff"/>
<rect x="1568" y="635" width="5" height="5" fill="#8c1ee0"/>
<rect x="1568" y="680" width="6" height="8" fill="#0000ff"/>
<rect x="1515" y="693" width="5" height="5" fill="#0000ff"/>
<rect x="1524" y="744" width="5" height="5" fill="#00c800"/>
<rect x="1486" y="871" width="5" height="5" fill="#00c800"/>
<rect x="1568" y="841" width="5" height="5" fill="#00c800"/>
<rect x="1478" y="620" width="5" height="5" fill="#0000ff"/>
<rect x="1483" y="695" width="5" height="5" fill="#0000ff"/>
<rect x="1503" y="688" width="5" height="5" fill="#0000ff"/>
<rect x="1518" y="648" width="5" height="5" fill="#8c1ee0"/>
<rect x="1521" y="653" width="5" height="5" fill="#0000ff"/>
<rect x="1526" y="658" width="5" height="5" fill="#8c1ee0"/>
<rect x="1536" y="706" width="5" height="5" fill="#8c1ee0"/>
<rect x="1561" y="658" width="5" height="5" fill="#8c1ee0"/>
<rect x="1485" y="755" width="5" height="5" fill="#00a0ff"/>
<rect x="1520" y="741" width="5" height="5" fill="#00c800"/>
<rect x="1528" y="858" width="5" height="5" fill="#00a0ff"/>
<rect x="1515" y="848" width="5" height="5" fill="#00c800"/>
<rect x="1263" y="648" width="5" height="5" fill="#0000ff"/>
<rect x="1318" y="684" width="5" height="5" fill="#00c800"/>
<rect x="1418" y="563" width="5" height="5" fill="#00a0ff"/>
<rect x="1436" y="560" width="5" height="5" fill="#00a0ff"/>
<rect x="1468" y="568" width="5" height="5" fill="#0000ff"/>
<rect x="1503" y="570" width="5" height="5" fill="#8c1ee0"/>
<rect x="1543" y="580" width="5" height="5" fill="#8c1ee0"/>
<rect x="1560" y="625" width="5" height="5" fill="#0000ff"/>
<rect x="1518" y="600" width="5" height="5" fill="#0000ff"/>
<rect x="1530" y="601" width="5" height="5" fill="#0000ff"/>
<ellipse cx="671" cy="869" rx="7" ry="3" fill="#00a0ff"/>
<path d="M709,878 Q718,887 711,897" stroke="#00a0ff" stroke-width="5" fill="none"/>
</g>

<!-- Antarctica -->
<g fill="none" stroke="#000" stroke-width="1.2">
<path d="M74,1018 L112,1020 170,1024 198,1023 244,1023 194,1019 187,1008 174,1003 218,998 179,992 170,983 208,978 237,973 294,968 323,968 361,970 380,973 404,972 404,962 438,963 476,966 495,962 524,958 538,947 543,933 557,922 572,913 591,905 572,917 567,927 570,940 567,957 572,967 553,977 524,978 505,980 476,987 486,995 524,1002 576,1012 610,1007 648,1005 706,997 687,993 672,990 696,983 744,975 763,967 782,955 811,952 830,952 868,948 916,948 964,942 983,945 1031,933 1050,927 1069,933 1112,935 1108,958 1117,957 1127,947 1155,937 1194,930 1251,928 1318,932 1385,923 1414,930 1452,938 1490,947 1533,952 1533,960 1509,970 1505,983 1490,995 1500,1005 1529,1013 1575,1018"/>
<ellipse cx="620" cy="994" rx="22" ry="8"/>
<ellipse cx="533" cy="992" rx="7" ry="3"/>
<ellipse cx="150" cy="993" rx="6" ry="3"/>
</g>

<!-- grid -->
<g stroke="#000" stroke-width="1">
<line x1="324.5" y1="150" x2="324.5" y2="1046"/>
<line x1="574.5" y1="150" x2="574.5" y2="1046"/>
<line x1="824.5" y1="150" x2="824.5" y2="1046"/>
<line x1="1074.5" y1="150" x2="1074.5" y2="1046"/>
<line x1="1324.5" y1="150" x2="1324.5" y2="1046"/>
<line x1="74" y1="299.5" x2="1575" y2="299.5"/>
<line x1="74" y1="448.5" x2="1575" y2="448.5"/>
<line x1="74" y1="598.5" x2="1575" y2="598.5"/>
<line x1="74" y1="747.5" x2="1575" y2="747.5"/>
<line x1="74" y1="896.5" x2="1575" y2="896.5"/>
</g>
</g>

<!-- frame -->
<rect x="75.5" y="150.3" width="1499.8" height="895.4" fill="none" stroke="#000" stroke-width="2.6"/>
<g stroke="#000" stroke-width="1.5">
<line x1="67" y1="150.5" x2="75" y2="150.5"/>
<line x1="67" y1="299.5" x2="75" y2="299.5"/>
<line x1="67" y1="448.5" x2="75" y2="448.5"/>
<line x1="67" y1="598.5" x2="75" y2="598.5"/>
<line x1="67" y1="747.5" x2="75" y2="747.5"/>
<line x1="67" y1="896.5" x2="75" y2="896.5"/>
<line x1="67" y1="1045.5" x2="75" y2="1045.5"/>
<line x1="75.5" y1="1046" x2="75.5" y2="1054"/>
<line x1="324.5" y1="1046" x2="324.5" y2="1054"/>
<line x1="574.5" y1="1046" x2="574.5" y2="1054"/>
<line x1="824.5" y1="1046" x2="824.5" y2="1054"/>
<line x1="1074.5" y1="1046" x2="1074.5" y2="1054"/>
<line x1="1324.5" y1="1046" x2="1324.5" y2="1054"/>
<line x1="1575" y1="1046" x2="1575" y2="1054"/>
</g>

<!-- axis labels -->
<g fill="#000" font-size="21">
<text x="22" y="158" textLength="38" lengthAdjust="spacingAndGlyphs">90N</text>
<text x="22" y="307" textLength="38" lengthAdjust="spacingAndGlyphs">60N</text>
<text x="22" y="457" textLength="38" lengthAdjust="spacingAndGlyphs">30N</text>
<text x="37" y="606" textLength="24" lengthAdjust="spacingAndGlyphs">EQ</text>
<text x="22" y="755" textLength="38" lengthAdjust="spacingAndGlyphs">30S</text>
<text x="22" y="905" textLength="38" lengthAdjust="spacingAndGlyphs">60S</text>
<text x="22" y="1054" textLength="38" lengthAdjust="spacingAndGlyphs">90S</text>
</g>
<g fill="#000" font-size="24">
<text x="58" y="1075" textLength="37" lengthAdjust="spacingAndGlyphs">180</text>
<text x="300" y="1075" textLength="55" lengthAdjust="spacingAndGlyphs">120W</text>
<text x="555" y="1075" textLength="41" lengthAdjust="spacingAndGlyphs">60W</text>
<text x="819" y="1075" textLength="11" lengthAdjust="spacingAndGlyphs">0</text>
<text x="1058" y="1075" textLength="37" lengthAdjust="spacingAndGlyphs">60E</text>
<text x="1303" y="1075" textLength="49" lengthAdjust="spacingAndGlyphs">120E</text>
<text x="1558" y="1075" textLength="37" lengthAdjust="spacingAndGlyphs">180</text>
</g>

<!-- title -->
<g fill="#3c3c3c" font-size="40">
<text x="124" y="46" textLength="1405" lengthAdjust="spacing">GPCC Precipitation Normals in mm/month (Version 2025)</text>
<text x="577" y="91" textLength="501" lengthAdjust="spacing">per 0.25 degree grid</text>
<text x="665" y="135" textLength="325" lengthAdjust="spacing">for FEBRUARY</text>
</g>

<!-- copyright -->
<text x="76" y="1106" font-size="19" fill="#ff3c3c" textLength="696" lengthAdjust="spacingAndGlyphs">(c) GPCC 2025/11/18 number of stations: 88991 global</text>

<!-- colorbar -->
<g>
<rect x="165" y="1128" width="95" height="30" fill="#ffff80"/>
<rect x="259.4" y="1128" width="95" height="30" fill="#ffff00"/>
<rect x="353.9" y="1128" width="95" height="30" fill="#80ff80"/>
<rect x="448.3" y="1128" width="95" height="30" fill="#00ff00"/>
<rect x="542.7" y="1128" width="95" height="30" fill="#00c800"/>
<rect x="637.2" y="1128" width="95" height="30" fill="#00a800"/>
<rect x="731.6" y="1128" width="95" height="30" fill="#00a0ff"/>
<rect x="826" y="1128" width="95" height="30" fill="#0064ff"/>
<rect x="920.4" y="1128" width="95" height="30" fill="#0000ff"/>
<rect x="1014.9" y="1128" width="95" height="30" fill="#8c1ee0"/>
<rect x="1109.3" y="1128" width="95" height="30" fill="#a000a0"/>
<rect x="1203.7" y="1128" width="95" height="30" fill="#be00be"/>
<rect x="1298.2" y="1128" width="95" height="30" fill="#dc00dc"/>
<rect x="1392.6" y="1128" width="94.4" height="30" fill="#ff00ff"/>
</g>
<g fill="#000" font-size="27" text-anchor="middle">
<text x="259.4" y="1187">1</text>
<text x="353.9" y="1187" textLength="31" lengthAdjust="spacingAndGlyphs">10</text>
<text x="448.3" y="1187" textLength="32" lengthAdjust="spacingAndGlyphs">25</text>
<text x="542.7" y="1187" textLength="32" lengthAdjust="spacingAndGlyphs">50</text>
<text x="637.2" y="1187" textLength="32" lengthAdjust="spacingAndGlyphs">75</text>
<text x="731.6" y="1187" textLength="49" lengthAdjust="spacingAndGlyphs">100</text>
<text x="826" y="1187" textLength="49" lengthAdjust="spacingAndGlyphs">150</text>
<text x="920.4" y="1187" textLength="49" lengthAdjust="spacingAndGlyphs">200</text>
<text x="1014.9" y="1187" textLength="49" lengthAdjust="spacingAndGlyphs">300</text>
<text x="1109.3" y="1187" textLength="49" lengthAdjust="spacingAndGlyphs">400</text>
<text x="1203.7" y="1187" textLength="49" lengthAdjust="spacingAndGlyphs">600</text>
<text x="1298.2" y="1187" textLength="49" lengthAdjust="spacingAndGlyphs">800</text>
<text x="1392.6" y="1187" textLength="68" lengthAdjust="spacingAndGlyphs">1000</text>
</g>
</svg>
</body></html>
